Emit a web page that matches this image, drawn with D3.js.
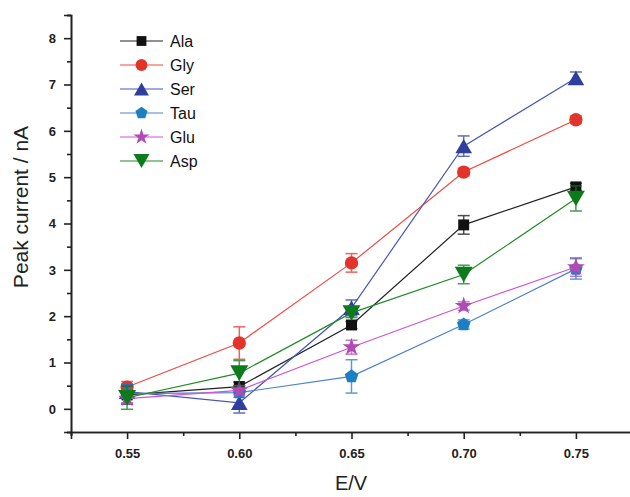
<!DOCTYPE html>
<html>
<head>
<meta charset="UTF-8">
<script src="https://cdn.jsdelivr.net/npm/d3@7"></script>
<style>
  body { margin: 0; background: #fff; }
  svg text { font-family: "Liberation Sans", Arial, sans-serif; }
</style>
</head>
<body>
<div id="app"></div>
<script>
// data
const potentials = [0.55, 0.60, 0.65, 0.70, 0.75];
const names = ["Ala", "Gly", "Ser", "Tau", "Glu", "Asp"];
const ala = [0.30, 0.48, 1.81, 3.97, 4.79];
const gly = [0.47, 1.42, 3.15, 5.11, 6.24];
const ser = [0.37, 0.13, 2.18, 5.67, 7.14];
const tau = [0.33, 0.35, 0.70, 1.82, 3.02];
const glu = [0.22, 0.40, 1.33, 2.22, 3.06];
const asp = [0.24, 0.77, 2.07, 2.90, 4.54];
const alaErr = [0.2, 0.1, 0.08, 0.2, 0.08];
const glyErr = [0.12, 0.35, 0.2, 0.08, 0.08];
const serErr = [0.15, 0.22, 0.17, 0.22, 0.13];
const tauErr = [0.2, 0.1, 0.36, 0.1, 0.22];
const gluErr = [0.12, 0.1, 0.15, 0.09, 0.2];
const aspErr = [0.25, 0.27, 0.1, 0.2, 0.27];
const yTicks = [0, 1, 2, 3, 4, 5, 6, 7, 8];

const series = [
  {name: names[0], vals: ala, err: alaErr, sym: d3.symbolSquare, fill: "#111111", line: "#222222", size: 120},
  {name: names[1], vals: gly, err: glyErr, sym: d3.symbolCircle, fill: "#e2342a", line: "#ef4a42", size: 140},
  {name: names[2], vals: ser, err: serErr, sym: d3.symbolTriangle, fill: "#2e3f9e", line: "#4656b8", size: 120},
  {name: names[3], vals: tau, err: tauErr, sym: "pent", fill: "#1c7fc2", line: "#4c80cf", size: 120},
  {name: names[4], vals: glu, err: gluErr, sym: d3.symbolStar, fill: "#b04ab5", line: "#cf55d0", size: 100},
  {name: names[5], vals: asp, err: aspErr, sym: "tridown", fill: "#0d7a1c", line: "#1f8c24", size: 140}
];

const w = 630, h = 497;
const svg = d3.select("#app").append("svg").attr("width", w).attr("height", h);

const x = d3.scaleLinear().domain([0.525, 0.775]).range([71, 632]);
const y = d3.scaleLinear().domain([-0.5, 8.5]).range([432, 15]);

// custom symbols
const pentagon = {
  draw(ctx, size) {
    const r = Math.sqrt(size / 2.38);
    for (let i = 0; i < 5; i++) {
      const a = -Math.PI / 2 + i * 2 * Math.PI / 5;
      const px = r * Math.cos(a), py = r * Math.sin(a);
      if (i === 0) ctx.moveTo(px, py); else ctx.lineTo(px, py);
    }
    ctx.closePath();
  }
};
const triDown = {
  draw(ctx, size) {
    const s = Math.sqrt(size / 0.433);
    const hh = s * 0.866;
    ctx.moveTo(-s / 2, -hh / 2);
    ctx.lineTo(s / 2, -hh / 2);
    ctx.lineTo(0, hh / 2);
    ctx.closePath();
  }
};
const triUp = {
  draw(ctx, size) {
    const s = Math.sqrt(size / 0.433);
    const hh = s * 0.866;
    ctx.moveTo(-s / 2, hh / 2);
    ctx.lineTo(s / 2, hh / 2);
    ctx.lineTo(0, -hh / 2);
    ctx.closePath();
  }
};
function symType(s) {
  if (s === "pent") return pentagon;
  if (s === "tridown") return triDown;
  if (s === d3.symbolTriangle) return triUp;
  return s;
}

// axes
const axisColor = "#222";
const xAxis = d3.axisBottom(x).tickValues(potentials).tickFormat(d3.format(".2f")).tickSize(7).tickPadding(10);
const xMinor = d3.axisBottom(x).tickValues([0.525, 0.575, 0.625, 0.675, 0.725, 0.775]).tickFormat("").tickSize(4);
const yAxis = d3.axisLeft(y).tickValues(yTicks).tickFormat(d3.format("d")).tickSize(7).tickPadding(8);
const yMinor = d3.axisLeft(y).tickValues(d3.range(-0.5, 8.6, 1)).tickFormat("").tickSize(4);

const gx = svg.append("g").attr("transform", "translate(0," + 432 + ")");
gx.call(xAxis);
gx.append("g").call(xMinor);
const gy = svg.append("g").attr("transform", "translate(71,0)");
gy.call(yAxis);
gy.append("g").call(yMinor);
svg.selectAll(".domain").attr("stroke", axisColor).attr("stroke-width", 1.6);
svg.selectAll(".tick line").attr("stroke", axisColor).attr("stroke-width", 1.6);
svg.selectAll(".tick text").attr("font-size", 13).attr("font-weight", "bold").attr("fill", "#222");

// axis titles
svg.append("text").attr("x", 351).attr("y", 490).attr("text-anchor", "middle")
  .attr("font-size", 20).attr("fill", "#222").text("E/V");
svg.append("text").attr("transform", "translate(28,207) rotate(-90)").attr("text-anchor", "middle")
  .attr("font-size", 21).attr("fill", "#222").text("Peak current / nA");

// series
const line = d3.line().x((d, i) => x(potentials[i])).y(d => y(d));
series.forEach(s => {
  const g = svg.append("g");
  g.append("path").datum(s.vals).attr("d", line).attr("fill", "none")
    .attr("stroke", s.line).attr("stroke-width", 1.2);
  const eb = g.selectAll(".eb").data(s.vals).enter().append("g").attr("opacity", 0.75);
  eb.append("line").attr("x1", (d, i) => x(potentials[i])).attr("x2", (d, i) => x(potentials[i]))
    .attr("y1", (d, i) => y(d + s.err[i])).attr("y2", (d, i) => y(d - s.err[i]))
    .attr("stroke", s.fill).attr("stroke-width", 1.5);
  [1, -1].forEach(sg => {
    eb.append("line").attr("x1", (d, i) => x(potentials[i]) - 6).attr("x2", (d, i) => x(potentials[i]) + 6)
      .attr("y1", (d, i) => y(d + sg * s.err[i])).attr("y2", (d, i) => y(d + sg * s.err[i]))
      .attr("stroke", s.fill).attr("stroke-width", 1.5);
  });
  g.selectAll(".mk").data(s.vals).enter().append("path")
    .attr("transform", (d, i) => "translate(" + x(potentials[i]) + "," + y(d) + ")")
    .attr("d", d3.symbol().type(symType(s.sym)).size(s.size))
    .attr("fill", s.fill);
});

// legend
const legend = svg.append("g");
series.forEach((s, i) => {
  const ly = 41 + i * 24;
  legend.append("line").attr("x1", 120).attr("x2", 163).attr("y1", ly).attr("y2", ly)
    .attr("stroke", s.line).attr("stroke-width", 1.2);
  legend.append("path").attr("transform", "translate(141.5," + ly + ")")
    .attr("d", d3.symbol().type(symType(s.sym)).size(s.size * 0.8)).attr("fill", s.fill);
  legend.append("text").attr("x", 170).attr("y", ly + 6).attr("font-size", 16)
    .attr("fill", "#111").text(s.name);
});
</script>
</body>
</html>
